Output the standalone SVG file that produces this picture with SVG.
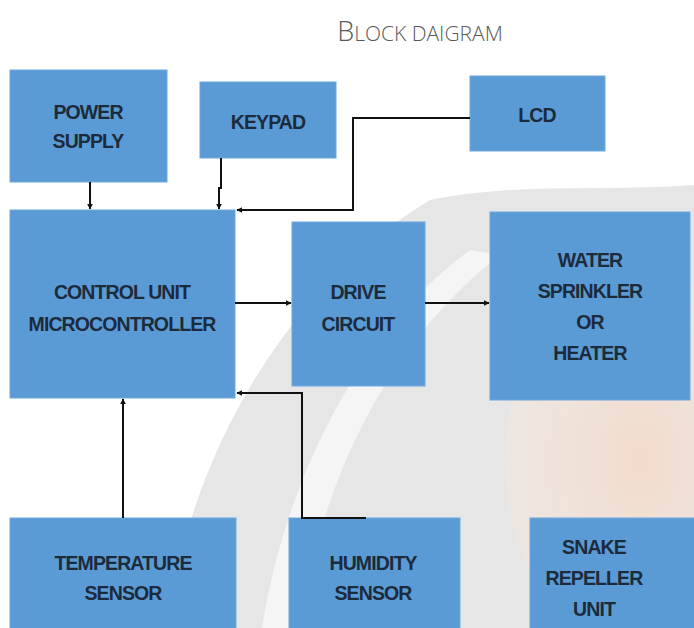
<svg xmlns="http://www.w3.org/2000/svg" width="694" height="628" viewBox="0 0 694 628">
<defs>
<style>
.box{fill:#5B9BD5;stroke:#6FA8DC;stroke-width:1}
.lbl{font-family:"Liberation Sans",Arial,sans-serif;font-weight:bold;font-size:19.5px;fill:#1C2B3C;text-anchor:middle;letter-spacing:-0.9px}
.con{fill:none;stroke:#111;stroke-width:2}
</style>
<marker id="ah" viewBox="0 0 10 10" refX="9" refY="5" markerWidth="6" markerHeight="6" orient="auto" markerUnits="userSpaceOnUse">
<path d="M0,0 L10,5 L0,10 z" fill="#111"/>
</marker>
<radialGradient id="og" cx="0.5" cy="0.5" r="0.5">
<stop offset="0" stop-color="#F7D6C0" stop-opacity="0.7"/>
<stop offset="1" stop-color="#F9E6D8" stop-opacity="0.35"/>
</radialGradient>
</defs>
<rect width="694" height="628" fill="#ffffff"/>
<g id="background">
<path d="M430,200 C520,182 600,192 694,185 L694,628 L168,628 C185,470 280,290 430,200 z" fill="#E6E6E6"/>
<path d="M262,628 C285,480 360,330 470,250 L500,255 C390,340 320,480 300,628 z" fill="#F5F5F5"/>
<ellipse cx="640" cy="460" rx="135" ry="190" fill="url(#og)"/>
</g>
<text x="420" y="41" font-family="'Open Sans','Liberation Sans',sans-serif" font-weight="300" fill="#595959" text-anchor="middle"><tspan font-size="27">B</tspan><tspan font-size="21">LOCK DAIGRAM</tspan></text>
<g id="power"><rect class="box" x="10" y="70" width="157" height="112"/><text class="lbl" x="88" y="119">POWER</text><text class="lbl" x="88" y="148">SUPPLY</text></g>
<g id="keypad"><rect class="box" x="200" y="82" width="136" height="76"/><text class="lbl" x="268" y="129">KEYPAD</text></g>
<g id="lcd"><rect class="box" x="470" y="76" width="135" height="75"/><text class="lbl" x="537" y="122" font-weight="normal" font-size="17">LCD</text></g>
<g id="control"><rect class="box" x="10" y="210" width="225" height="188"/><text class="lbl" x="122" y="299">CONTROL UNIT</text><text class="lbl" x="122" y="331">MICROCONTROLLER</text></g>
<g id="drive"><rect class="box" x="292" y="222" width="133" height="164"/><text class="lbl" x="358" y="299">DRIVE</text><text class="lbl" x="358" y="331">CIRCUIT</text></g>
<g id="water"><rect class="box" x="490" y="212" width="200" height="188"/><text class="lbl" x="590" y="267">WATER</text><text class="lbl" x="590" y="298">SPRINKLER</text><text class="lbl" x="590" y="329">OR</text><text class="lbl" x="590" y="360">HEATER</text></g>
<g id="temperature"><rect class="box" x="10" y="518" width="226" height="115"/><text class="lbl" x="123" y="570">TEMPERATURE</text><text class="lbl" x="123" y="600">SENSOR</text></g>
<g id="humidity"><rect class="box" x="289" y="518" width="171" height="115"/><text class="lbl" x="373" y="570">HUMIDITY</text><text class="lbl" x="373" y="600">SENSOR</text></g>
<g id="snake"><rect class="box" x="530" y="518" width="170" height="115"/><text class="lbl" x="594" y="554">SNAKE</text><text class="lbl" x="594" y="585">REPELLER</text><text class="lbl" x="594" y="616">UNIT</text></g>
<g id="connectors">
<path class="con" d="M90,182 V209" marker-end="url(#ah)"/>
<path class="con" d="M221,158 V188 H219 V209" marker-end="url(#ah)"/>
<path class="con" d="M470,118 H353 V210 H237" marker-end="url(#ah)"/>
<path class="con" d="M235,303 H291" marker-end="url(#ah)"/>
<path class="con" d="M425,303 H489" marker-end="url(#ah)"/>
<path class="con" d="M123,518 V399" marker-end="url(#ah)"/>
<path class="con" d="M366,518 H302 V393 H237" marker-end="url(#ah)"/>
</g>
</svg>
